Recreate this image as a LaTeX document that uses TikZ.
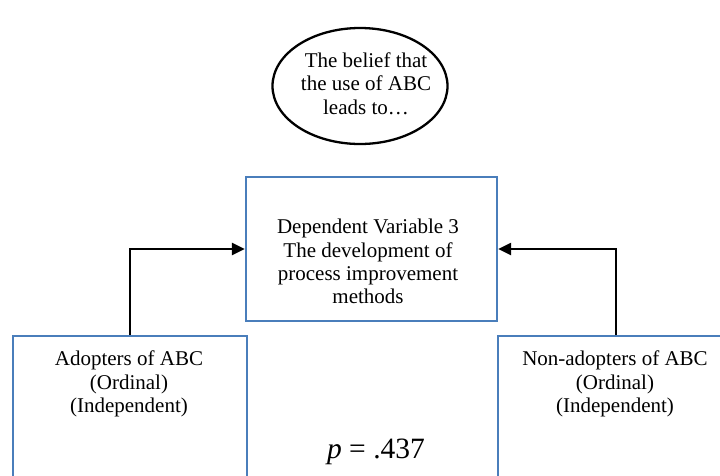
\documentclass[tikz,border=0pt]{standalone}
\usepackage{fontspec}
\setmainfont{Liberation Serif}
\usetikzlibrary{arrows.meta,shapes.geometric}
\definecolor{boxblue}{RGB}{74,126,187}
\begin{document}
\begin{tikzpicture}[x=1pt,y=-1pt,
  bx/.style={draw=boxblue, line width=2.3pt, inner sep=0pt},
  txt/.style={align=center, font=\fontsize{21}{23.3}\selectfont, inner sep=0pt},
  arr/.style={draw=black, line width=2.3pt, -{Triangle[length=13pt,width=12pt]}},
  oval/.style={ellipse, draw=black, line width=2.3pt, inner sep=0pt}]
\useasboundingbox (0,0) rectangle (720,475);
\clip (0,0) rectangle (720,475);
% ellipse
\node[oval, minimum width=175pt, minimum height=116pt] (E) at (360,86) {};
\node[txt, anchor=north] (Et) at (366,52.5) {The belief that\\the use of ABC\\leads to\ldots};
% center box
\node[bx, minimum width=251pt, minimum height=144pt] (C) at (371.5,249) {};
\node[txt, anchor=north] (Ct) at (368,219) {Dependent Variable 3\\The development of\\process improvement\\methods};
% left box
\node[bx, minimum width=234pt, minimum height=170pt, anchor=north west] (L) at (12,335) {};
\node[txt, anchor=north] (Lt) at (129,351) {Adopters of ABC\\(Ordinal)\\(Independent)};
% right box
\node[bx, minimum width=236pt, minimum height=170pt, anchor=north west] (R) at (497,335) {};
\node[txt, anchor=north] (Rt) at (615,351) {Non-adopters of ABC\\(Ordinal)\\(Independent)};
% p value
\node[inner sep=0pt, anchor=base, font=\fontsize{29.5}{33}\selectfont] (P) at (376,458) {\textit{p} = .437};
% arrows
\draw[arr] (L.north) |- (C.west);
\draw[arr] (R.north) |- (C.east);
\end{tikzpicture}
\end{document}
